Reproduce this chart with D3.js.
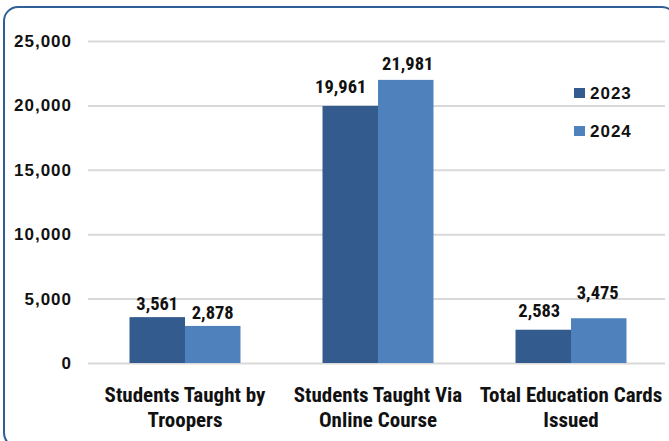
<!DOCTYPE html>
<html><head><meta charset="utf-8">
<script src="https://cdn.jsdelivr.net/npm/d3@7"></script>
<style>body{margin:0;background:#fff;}svg{display:block;}</style>
</head><body>
<script>
const categories = [["Students Taught by","Troopers"],["Students Taught Via","Online Course"],["Total Education Cards","Issued"]];
const seriesNames = ["2023","2024"];
const values2023 = [3561, 19961, 2583];
const values2024 = [2878, 21981, 3475];
const yTicks = [0, 5000, 10000, 15000, 20000, 25000];
const colors = ["#335b8e", "#4f81bd"];
// manual label nudges (px) as placed in the original chart
const labelShiftX = [[0, -9.5, -4], [0, 2, -1]];
const labelGap = [[7, 13, 13], [7, 10, 19]];

const W = 669, H = 441;
const svg = d3.select("body").append("svg").attr("width", W).attr("height", H);
svg.append("rect").attr("x",4).attr("y",7).attr("width",672).attr("height",440).attr("rx",14)
  .attr("fill","#fff").attr("stroke","#2f5f96").attr("stroke-width",2);

const narrow = "'Liberation Sans Narrow','Arial Narrow','Roboto Condensed',sans-serif";
const y = d3.scaleLinear().domain([0,25000]).range([363,41]);
const x0 = d3.scaleBand().domain(d3.range(categories.length)).range([88.5,667.5]).paddingInner(0.425).paddingOuter(0.2125);
const x1 = d3.scaleBand().domain(seriesNames).range([0, x0.bandwidth()]);

const yAxis = svg.append("g").attr("transform","translate(88,0)")
  .call(d3.axisLeft(y).tickValues(yTicks).tickFormat(d3.format(",")).tickSize(-577).tickPadding(16));
yAxis.select(".domain").remove();
yAxis.selectAll(".tick line").attr("stroke","#d9d9d9").attr("stroke-width",2);
yAxis.selectAll(".tick text").attr("font-family","'Liberation Sans',Arial,sans-serif").attr("font-weight","bold")
  .attr("font-size",17).attr("letter-spacing","1px").attr("fill","#111");

const data = categories.map((c,i)=>({i, vals:[values2023[i], values2024[i]]}));
const g = svg.append("g").selectAll("g").data(data).join("g").attr("transform",d=>`translate(${x0(d.i)},0)`);
g.selectAll("rect").data(d=>d.vals.map((v,k)=>({k,v,i:d.i}))).join("rect")
  .attr("x",d=>x1(seriesNames[d.k])).attr("width",x1.bandwidth())
  .attr("y",d=>y(d.v)).attr("height",d=>y(0)-y(d.v)).attr("fill",d=>colors[d.k]);
g.selectAll("text").data(d=>d.vals.map((v,k)=>({k,v,i:d.i}))).join("text")
  .attr("x",d=>x1(seriesNames[d.k])+x1.bandwidth()/2+labelShiftX[d.k][d.i]).attr("y",d=>y(d.v)-labelGap[d.k][d.i])
  .attr("text-anchor","middle").attr("font-family",narrow).attr("font-weight","bold").attr("font-size",18.5).attr("fill","#111")
  .text(d=>d3.format(",")(d.v));

const xAxis = svg.append("g");
categories.forEach((lines,i)=>{
  const t = xAxis.append("text").attr("x",x0(i)+x0.bandwidth()/2).attr("y",402)
    .attr("text-anchor","middle").attr("font-family",narrow).attr("font-weight","bold").attr("font-size",21).attr("fill","#111");
  lines.forEach((l,j)=>t.append("tspan").attr("x",x0(i)+x0.bandwidth()/2).attr("dy",j?25:0).text(l));
});

const leg = svg.append("g").selectAll("g").data(seriesNames).join("g").attr("transform",(d,i)=>`translate(574,${88+i*38})`);
leg.append("rect").attr("width",11).attr("height",10).attr("fill",(d,i)=>colors[i]);
leg.append("text").attr("x",16).attr("y",11).attr("font-family","'Liberation Sans',Arial,sans-serif").attr("font-weight","bold")
  .attr("font-size",17).attr("letter-spacing","1px").attr("fill","#111").text(d=>d);
</script>
</body></html>
